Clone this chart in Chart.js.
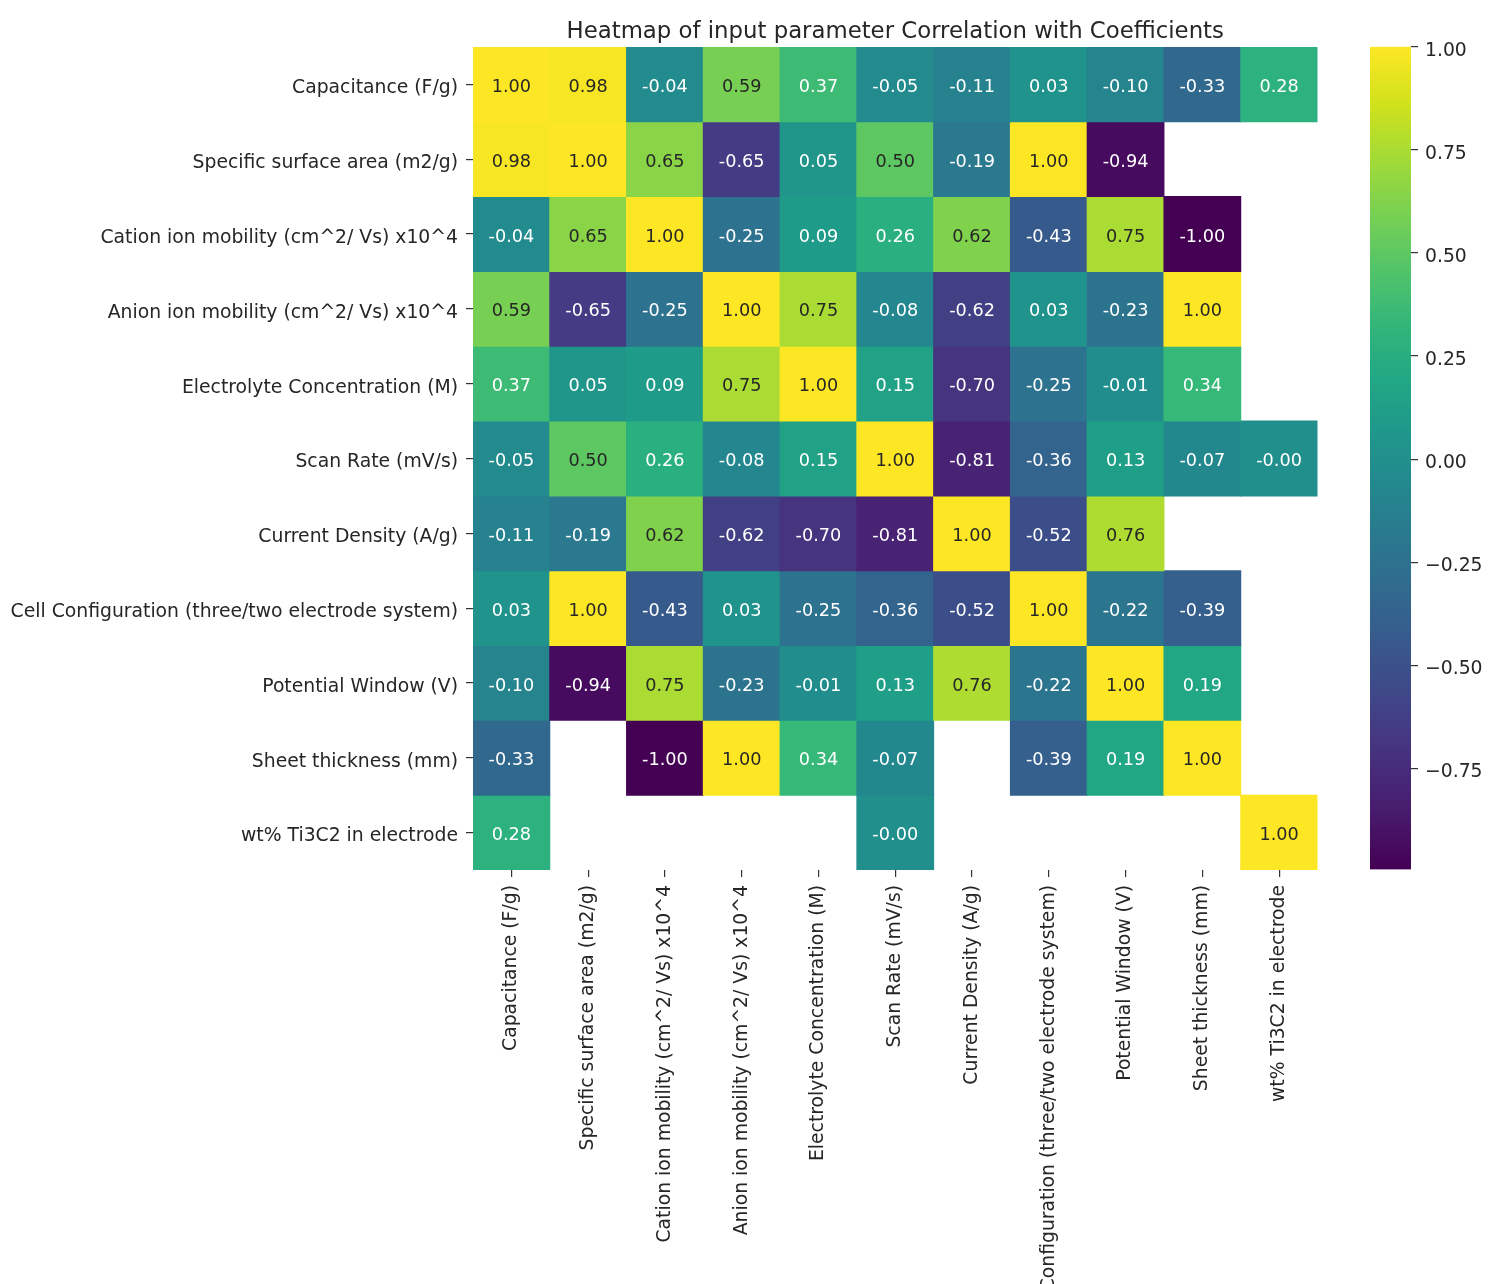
<!DOCTYPE html>
<html>
<head>
<meta charset="utf-8">
<script src="https://cdn.jsdelivr.net/npm/chart.js@4.4.1/dist/chart.umd.min.js"></script>
<style>
  html, body { margin: 0; padding: 0; background: #ffffff; }
  #wrap { position: relative; width: 1500px; height: 1284px; overflow: hidden; background: #ffffff; }
  #main { position: absolute; left: 0; top: 0; width: 1500px; height: 1284px; }
  #cbar { position: absolute; left: 1300px; top: 0; width: 200px; height: 1284px; }
</style>
</head>
<body>
<div id="wrap">
  <canvas id="main" width="1500" height="1284"></canvas>
  <canvas id="cbar" width="200" height="1284"></canvas>
</div>
<script>
// ---------------- data ----------------
const LABELS = [
  'Capacitance (F/g)',
  'Specific surface area (m2/g)',
  'Cation ion mobility (cm^2/ Vs) x10^4',
  'Anion ion mobility (cm^2/ Vs) x10^4',
  'Electrolyte Concentration (M)',
  'Scan Rate (mV/s)',
  'Current Density (A/g)',
  'Cell Configuration (three/two electrode system)',
  'Potential Window (V)',
  'Sheet thickness (mm)',
  'wt% Ti3C2 in electrode'
];

const rowCapacitance   = [1.00, 0.98, -0.04, 0.59, 0.37, -0.05, -0.11, 0.03, -0.10, -0.33, 0.28];
const rowSurfaceArea   = [0.98, 1.00, 0.65, -0.65, 0.05, 0.50, -0.19, 1.00, -0.94, null, null];
const rowCationMob     = [-0.04, 0.65, 1.00, -0.25, 0.09, 0.26, 0.62, -0.43, 0.75, -1.00, null];
const rowAnionMob      = [0.59, -0.65, -0.25, 1.00, 0.75, -0.08, -0.62, 0.03, -0.23, 1.00, null];
const rowElectrolyte   = [0.37, 0.05, 0.09, 0.75, 1.00, 0.15, -0.70, -0.25, -0.01, 0.34, null];
const rowScanRate      = [-0.05, 0.50, 0.26, -0.08, 0.15, 1.00, -0.81, -0.36, 0.13, -0.07, -0.00];
const rowCurrentDens   = [-0.11, -0.19, 0.62, -0.62, -0.70, -0.81, 1.00, -0.52, 0.76, null, null];
const rowCellConfig    = [0.03, 1.00, -0.43, 0.03, -0.25, -0.36, -0.52, 1.00, -0.22, -0.39, null];
const rowPotentialWin  = [-0.10, -0.94, 0.75, -0.23, -0.01, 0.13, 0.76, -0.22, 1.00, 0.19, null];
const rowSheetThick    = [-0.33, null, -1.00, 1.00, 0.34, -0.07, null, -0.39, 0.19, 1.00, null];
const rowWtTi3C2       = [0.28, null, null, null, null, -0.00, null, null, null, null, 1.00];

const MATRIX = [rowCapacitance, rowSurfaceArea, rowCationMob, rowAnionMob, rowElectrolyte,
  rowScanRate, rowCurrentDens, rowCellConfig, rowPotentialWin, rowSheetThick, rowWtTi3C2];

const CB_MIN = -0.995;
const CB_MAX = 1.0;
const CB_TICKS = [-0.75, -0.50, -0.25, 0.00, 0.25, 0.50, 0.75, 1.00];
const TITLE = 'Heatmap of input parameter Correlation with Coefficients';

// ---------------- style ----------------
const FONT = 'DejaVu Sans';
const TEXT_DARK = '#262626';
const VIRIDIS = ['#440154','#481A6C','#472F7D','#414487','#39568C','#31688E','#2A788E','#23888E',
  '#1F988B','#22A884','#35B779','#54C568','#7AD151','#A5DB36','#D2E21B','#FDE725'];

function hexToRgb(h) {
  return [parseInt(h.slice(1,3),16), parseInt(h.slice(3,5),16), parseInt(h.slice(5,7),16)];
}
const VIR_RGB = VIRIDIS.map(hexToRgb);

function rgbFor(v) {
  let t = (v - CB_MIN) / (CB_MAX - CB_MIN);
  t = Math.max(0, Math.min(1, t));
  const n = VIR_RGB.length - 1;
  const pos = t * n;
  const i = Math.min(n - 1, Math.floor(pos));
  const f = pos - i;
  const a = VIR_RGB[i], b = VIR_RGB[i + 1];
  return [0,1,2].map(k => a[k] + (b[k] - a[k]) * f);
}
function colorFor(v) {
  const c = rgbFor(v);
  return `rgb(${Math.round(c[0])},${Math.round(c[1])},${Math.round(c[2])})`;
}
function textColorFor(v) {
  const c = rgbFor(v).map(x => {
    const s = x / 255;
    return s <= 0.03928 ? s / 12.92 : Math.pow((s + 0.055) / 1.055, 2.4);
  });
  const lum = 0.2126 * c[0] + 0.7152 * c[1] + 0.0722 * c[2];
  return lum > 0.408 ? TEXT_DARK : '#ffffff';
}
function fmt(v) {
  if (v < 0 || Object.is(v, -0)) return '-' + Math.abs(v).toFixed(2);
  return v.toFixed(2);
}

Chart.defaults.font.family = FONT;

const cellTextPlugin = {
  id: 'cellText',
  afterDatasetsDraw(chart) {
    const c = chart.ctx;
    c.save();
    c.font = `17.7px "${FONT}"`;
    c.textAlign = 'center';
    c.textBaseline = 'middle';
    MATRIX.forEach((row, r) => {
      const meta = chart.getDatasetMeta(r);
      row.forEach((v, j) => {
        if (v === null) return;
        const el = meta.data[j];
        const p = el.getProps(['x', 'y', 'base'], true);
        c.fillStyle = textColorFor(v);
        c.fillText(fmt(v), p.x, (p.y + p.base) / 2 + 3);
      });
    });
    c.restore();
  }
};

new Chart(document.getElementById('main'), {
  type: 'bar',
  data: {
    labels: LABELS,
    datasets: MATRIX.map((row, r) => ({
      label: LABELS[r],
      data: row.map(v => (v === null ? null : [r, r + 1])),
      backgroundColor: row.map(v => (v === null ? 'rgba(0,0,0,0)' : colorFor(v))),
      borderWidth: 0,
      inflateAmount: 0.5,
      barPercentage: 1,
      categoryPercentage: 1,
      grouped: false
    }))
  },
  options: {
    responsive: false,
    animation: false,
    devicePixelRatio: 1,
    layout: { padding: { left: 0, right: 182.5, top: 0, bottom: 0 } },
    plugins: {
      legend: { display: false },
      tooltip: { enabled: false },
      title: {
        display: true,
        text: TITLE,
        fullSize: false,
        color: TEXT_DARK,
        font: { family: FONT, size: 22.8, weight: 'normal', lineHeight: 1.2 },
        padding: { top: 18.5, bottom: 1.1 }
      }
    },
    scales: {
      x: {
        type: 'category',
        offset: true,
        grid: { display: true, drawOnChartArea: false, offset: false, tickLength: 7, color: '#333333', lineWidth: 1.2 },
        border: { display: false },
        ticks: {
          autoSkip: false, minRotation: 90, maxRotation: 90, padding: 8,
          color: TEXT_DARK, font: { family: FONT, size: 18.8 }
        },
        afterFit: s => { s.height = 414; }
      },
      y: {
        type: 'linear',
        min: 0,
        max: LABELS.length,
        reverse: true,
        afterBuildTicks: s => { s.ticks = LABELS.map((_, i) => ({ value: i + 0.5 })); },
        grid: { display: true, drawOnChartArea: false, tickLength: 7, color: '#333333', lineWidth: 1.2 },
        border: { display: false },
        ticks: {
          autoSkip: false, padding: 8, labelOffset: 4, color: TEXT_DARK, font: { family: FONT, size: 18.8 },
          callback: (v, i) => LABELS[i]
        },
        afterFit: s => { s.width = 473; }
      }
    }
  },
  plugins: [cellTextPlugin]
});

function cbGradient(ctx) {
  const chart = ctx.chart;
  const ys = chart.scales && chart.scales.y;
  if (!chart.chartArea || !ys) return colorFor(0);
  const g = chart.ctx.createLinearGradient(0, ys.getPixelForValue(CB_MIN), 0, ys.getPixelForValue(CB_MAX));
  VIRIDIS.forEach((h, i) => g.addColorStop(i / (VIRIDIS.length - 1), h));
  return g;
}

new Chart(document.getElementById('cbar'), {
  type: 'bar',
  data: {
    labels: [''],
    datasets: [{
      data: [[CB_MIN, CB_MAX]],
      backgroundColor: cbGradient,
      borderWidth: 0,
      barPercentage: 1,
      categoryPercentage: 1
    }]
  },
  options: {
    responsive: false,
    animation: false,
    devicePixelRatio: 1,
    layout: { padding: { left: 70, right: 0, top: 46.7, bottom: 414.5 } },
    plugins: { legend: { display: false }, tooltip: { enabled: false }, title: { display: false } },
    scales: {
      x: { display: false },
      y: {
        position: 'right',
        min: CB_MIN,
        max: CB_MAX,
        afterBuildTicks: s => { s.ticks = CB_TICKS.map(v => ({ value: v })); },
        grid: { display: true, drawOnChartArea: false, tickLength: 7, color: '#333333', lineWidth: 1.2 },
        border: { display: false },
        ticks: {
          padding: 7, labelOffset: 4, color: TEXT_DARK, font: { family: FONT, size: 18.8 },
          callback: v => (v < 0 ? '\u2212' : '') + Math.abs(v).toFixed(2)
        },
        afterFit: s => { s.width = 89; }
      }
    }
  }
});
</script>
</body>
</html>
